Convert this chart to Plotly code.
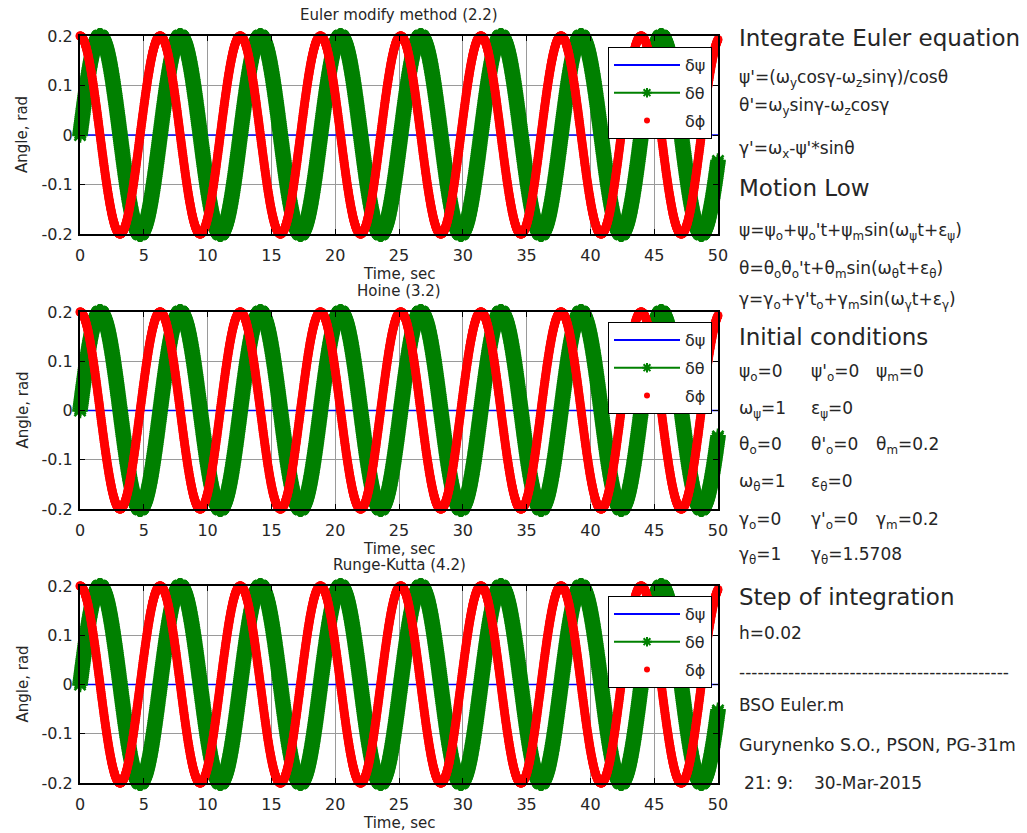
import numpy as np
import plotly.graph_objects as go

# ---- integration settings and motion-law parameters ----
methods = ["Euler modify method (2.2)", "Hoine (3.2)", "Runge-Kutta (4.2)"]
h = 0.02
t_end = 50

# psi: initial value, initial rate, amplitude, frequency, phase
psi_0, dpsi_0, psi_m, w_psi, eps_psi = 0, 0, 0, 1, 0
theta_0, dtheta_0, theta_m, w_theta, eps_theta = 0, 0, 0.2, 1, 0
gamma_0, dgamma_0, gamma_m, w_gamma, eps_gamma = 0, 0, 0.2, 1, 1.5708

series_names = ["δψ", "δθ", "δϕ"]
x_ticks = [0, 5, 10, 15, 20, 25, 30, 35, 40, 45, 50]
y_ticks = [-0.2, -0.1, 0, 0.1, 0.2]
y_tick_text = ["-0.2", "-0.1", "0", "0.1", "0.2"]

t = np.arange(0, t_end + h / 2, h)
psi = psi_0 + dpsi_0 * t + psi_m * np.sin(w_psi * t + eps_psi)
theta = theta_0 + dtheta_0 * t + theta_m * np.sin(w_theta * t + eps_theta)
gamma = gamma_0 + dgamma_0 * t + gamma_m * np.sin(w_gamma * t + eps_gamma)

W, H = 1027, 833
FONT = "DejaVu Sans"
TXT = "#262626"
BLUE, GREEN, RED = "#0000ff", "#008000", "#ff0000"


def px_x(p):
    return p / W


def px_y(p):
    return 1 - p / H


x_dom = [px_x(80), px_x(718)]
panels = [(36, 234), (312, 509), (586, 783)]
legend_tops = [47, 322, 596]

fig = go.Figure()
annotations = []
layout = {}

for i, (name, (top, bot)) in enumerate(zip(methods, panels)):
    k = "" if i == 0 else str(i + 1)
    xa, ya = "x" + k, "y" + k
    lg = "legend" + k

    # data traces
    fig.add_trace(go.Scatter(x=t, y=psi, mode="lines", line=dict(color=BLUE, width=1.5),
                             xaxis=xa, yaxis=ya, showlegend=False, hoverinfo="skip"))
    fig.add_trace(go.Scatter(x=t, y=theta, mode="lines+markers",
                             line=dict(color=GREEN, width=1.5),
                             marker=dict(symbol="asterisk-open", size=13,
                                         line=dict(width=2.5, color=GREEN)),
                             cliponaxis=False, xaxis=xa, yaxis=ya, showlegend=False, hoverinfo="skip"))
    fig.add_trace(go.Scatter(x=t, y=gamma, mode="markers",
                             marker=dict(symbol="circle", size=9, color=RED, line=dict(width=0)),
                             cliponaxis=False, xaxis=xa, yaxis=ya, showlegend=False, hoverinfo="skip"))

    # legend entries
    styles = [
        dict(mode="lines", line=dict(color=BLUE, width=2)),
        dict(mode="lines+markers", line=dict(color=GREEN, width=2),
             marker=dict(symbol="asterisk-open", size=8, line=dict(width=2, color=GREEN))),
        dict(mode="markers", marker=dict(symbol="circle", size=6, color=RED)),
    ]
    for j, (sname, st) in enumerate(zip(series_names, styles)):
        fig.add_trace(go.Scatter(x=[None], y=[None], name=sname, legend=lg,
                                 legendgroup=f"{i}-{j}", xaxis=xa, yaxis=ya, **st))

    axis_common = dict(showline=True, linecolor="black", linewidth=2, mirror="allticks",
                       ticks="inside", ticklen=5, tickcolor="black", tickwidth=1,
                       showgrid=True, gridcolor="#9a9a9a", gridwidth=1, zeroline=False,
                       automargin=False,
                       tickfont=dict(family=FONT, size=16, color=TXT))
    layout["xaxis" + k] = dict(domain=x_dom, range=[0, t_end], tickvals=x_ticks,
                               anchor=ya, ticklabelstandoff=6, **axis_common)
    layout["yaxis" + k] = dict(domain=[px_y(bot), px_y(top)], range=[-0.2, 0.2],
                               tickvals=y_ticks, ticktext=y_tick_text, anchor=xa,
                               ticklabelstandoff=2, **axis_common)
    layout[lg] = dict(x=px_x(712), y=px_y(legend_tops[i]), xanchor="right", yanchor="top",
                      bgcolor="white", bordercolor="black", borderwidth=1,
                      font=dict(family=FONT, size=16, color=TXT), itemwidth=66,
                      traceorder="grouped", tracegroupgap=4)

    # subplot title and axis labels
    centre = dict(xref="paper", yref="paper", xanchor="center", yanchor="middle",
                  showarrow=False, font=dict(family=FONT, size=15, color=TXT))
    annotations.append(dict(text=name, x=px_x(399), y=px_y(top - 21), **centre))
    annotations.append(dict(text="Time, sec", x=px_x(399), y=px_y(bot + 40), **centre))
    annotations.append(dict(text="Angle, rad", x=px_x(22), y=px_y((top + bot) / 2),
                            textangle=-90, **centre))


# ---- text panel on the right ----
def note(text, xp, yp, size=17):
    annotations.append(dict(text=text, x=px_x(xp), y=px_y(yp), xref="paper", yref="paper",
                            xanchor="left", yanchor="middle", showarrow=False, align="left",
                            font=dict(family=FONT, size=size, color=TXT)))


def num(v):
    return f"{v:g}"


X0, X1, X2 = 737, 809, 874
note("Integrate Euler equation", X0, 38, 23)
note("ψ'=(ω<sub>y</sub>cosγ-ω<sub>z</sub>sinγ)/cosθ", X0, 78)
note("θ'=ω<sub>y</sub>sinγ-ω<sub>z</sub>cosγ", X0, 106)
note("γ'=ω<sub>x</sub>-ψ'*sinθ", X0, 149)
note("Motion Low", X0, 188, 23)
note("ψ=ψ<sub>o</sub>+ψ<sub>o</sub>'t+ψ<sub>m</sub>sin(ω<sub>ψ</sub>t+ε<sub>ψ</sub>)", X0, 232)
note("θ=θ<sub>o</sub>θ<sub>o</sub>'t+θ<sub>m</sub>sin(ω<sub>θ</sub>t+ε<sub>θ</sub>)", X0, 269)
note("γ=γ<sub>o</sub>+γ't<sub>o</sub>+γ<sub>m</sub>sin(ω<sub>γ</sub>t+ε<sub>γ</sub>)", X0, 300)
note("Initial conditions", X0, 337, 23)
note(f"ψ<sub>o</sub>={num(psi_0)}", X0, 372)
note(f"ψ'<sub>o</sub>={num(dpsi_0)}", X1, 372)
note(f"ψ<sub>m</sub>={num(psi_m)}", X2, 372)
note(f"ω<sub>ψ</sub>={num(w_psi)}", X0, 409)
note(f"ε<sub>ψ</sub>={num(eps_psi)}", X1, 409)
note(f"θ<sub>o</sub>={num(theta_0)}", X0, 445)
note(f"θ'<sub>o</sub>={num(dtheta_0)}", X1, 445)
note(f"θ<sub>m</sub>={num(theta_m)}", X2, 445)
note(f"ω<sub>θ</sub>={num(w_theta)}", X0, 482)
note(f"ε<sub>θ</sub>={num(eps_theta)}", X1, 482)
note(f"γ<sub>o</sub>={num(gamma_0)}", X0, 520)
note(f"γ'<sub>o</sub>={num(dgamma_0)}", X1, 520)
note(f"γ<sub>m</sub>={num(gamma_m)}", X2, 520)
note(f"γ<sub>θ</sub>={num(w_gamma)}", X0, 555)
note(f"γ<sub>θ</sub>={num(eps_gamma)}", X1, 555)
note("Step of integration", X0, 597, 23)
note(f"h={num(h)}", X0, 633)
note("-" * 44, X0, 672)
note("BSO Euler.m", X0, 705)
note("Gurynenko S.O., PSON, PG-31m", X0, 745, 17.5)
note("21: 9:", 742, 783)
note("30-Mar-2015", 812, 783)

fig.update_layout(
    width=W, height=H, margin=dict(l=0, r=0, t=0, b=0, autoexpand=False),
    paper_bgcolor="white", plot_bgcolor="white",
    annotations=annotations, **layout,
)

fig.write_html("out.html")
